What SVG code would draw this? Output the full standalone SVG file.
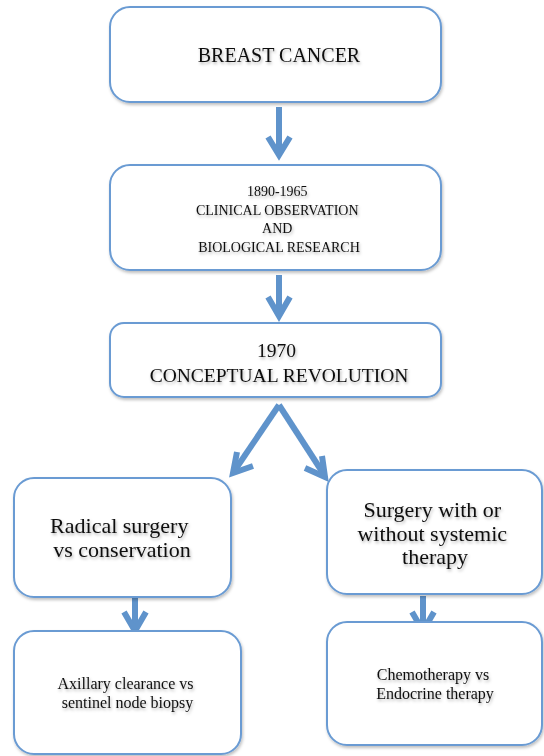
<svg xmlns="http://www.w3.org/2000/svg" width="544" height="756" viewBox="0 0 544 756">
  <defs>
    <filter id="sh" x="-10%" y="-10%" width="130%" height="130%">
      <feDropShadow dx="1" dy="2" stdDeviation="1.5" flood-color="#000" flood-opacity="0.25"/>
    </filter>
    <filter id="tsh" x="-10%" y="-30%" width="130%" height="180%">
      <feDropShadow dx="1" dy="2" stdDeviation="1.5" flood-color="#000" flood-opacity="0.3"/>
    </filter>
  </defs>
  <style>
    .box { fill: #fff; stroke: #6a9bd3; stroke-width: 2; filter: url(#sh); }
    .t { font-family: "Liberation Serif", "Times New Roman", serif; fill: #111; text-anchor: middle; filter: url(#tsh); }
    .arr { fill: none; stroke: #5f93cb; stroke-width: 6; stroke-linejoin: miter; }
  </style>
  <rect width="544" height="756" fill="#fff"/>

  <g id="connectors">
    <path class="arr" d="M279 107 V153"/>
    <path class="arr" d="M268 137 L279 155 L290 137"/>
    <path class="arr" d="M279 275 V314"/>
    <path class="arr" d="M268 297 L279 316 L290 297"/>
    <path class="arr" d="M279 405 L235 470"/>
    <path class="arr" d="M279 405 L323 473"/>
    <path class="arr" d="M237 452 L233 473 L253 466"/>
    <path class="arr" d="M322 456 L325 477 L305 468"/>
    <path class="arr" d="M135 598 V628"/>
    <path class="arr" d="M124 612 L135 631 L146 612"/>
    <path class="arr" d="M423 596 V628"/>
    <path class="arr" d="M412 612 L423 631 L434 612"/>
  </g>

  <g id="n1">
    <rect class="box" x="110" y="7" width="331" height="95" rx="20"/>
    <text class="t" x="279" y="62" font-size="20">BREAST CANCER</text>
  </g>
  <g id="n2">
    <rect class="box" x="110" y="165" width="331" height="105" rx="20"/>
    <text class="t" font-size="14">
      <tspan x="279" y="196">1890-1965</tspan>
      <tspan x="279" y="215">CLINICAL OBSERVATION</tspan>
      <tspan x="279" y="233">AND</tspan>
      <tspan x="279" y="252">BIOLOGICAL RESEARCH</tspan>
    </text>
  </g>
  <g id="n3">
    <rect class="box" x="110" y="323" width="331" height="74" rx="14"/>
    <text class="t" font-size="19.5">
      <tspan x="279" y="357">1970</tspan>
      <tspan x="279" y="382">CONCEPTUAL REVOLUTION</tspan>
    </text>
  </g>
  <g id="n4">
    <rect class="box" x="14" y="478" width="217" height="119" rx="20"/>
    <text class="t" font-size="22">
      <tspan x="122" y="533">Radical surgery</tspan>
      <tspan x="122" y="557">vs conservation</tspan>
    </text>
  </g>
  <g id="n5">
    <rect class="box" x="327" y="470" width="215" height="124" rx="20"/>
    <text class="t" font-size="22">
      <tspan x="435" y="517">Surgery with or</tspan>
      <tspan x="435" y="541">without systemic</tspan>
      <tspan x="435" y="564">therapy</tspan>
    </text>
  </g>
  <g id="n6">
    <rect class="box" x="14" y="631" width="227" height="123" rx="20"/>
    <text class="t" font-size="16">
      <tspan x="127.5" y="689">Axillary clearance vs</tspan>
      <tspan x="127.5" y="708">sentinel node biopsy</tspan>
    </text>
  </g>
  <g id="n7">
    <rect class="box" x="327" y="622" width="215" height="123" rx="20"/>
    <text class="t" font-size="16">
      <tspan x="435" y="680">Chemotherapy vs</tspan>
      <tspan x="435" y="699">Endocrine therapy</tspan>
    </text>
  </g>
</svg>
